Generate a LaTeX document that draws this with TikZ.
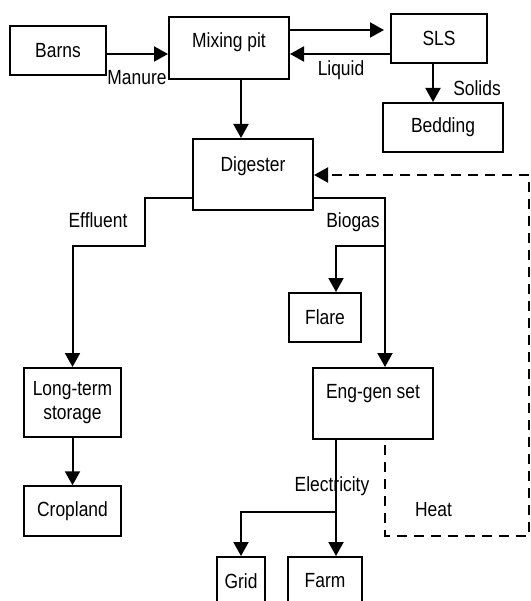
\documentclass[tikz,border=0pt]{standalone}
\usepackage{fontspec}
\setmainfont{Liberation Sans}[FakeStretch=0.85]
\usetikzlibrary{positioning, arrows.meta, calc}

\tikzset{
  box/.style={draw, line width=2pt, inner sep=0pt, align=center,
    font=\fontsize{20.5}{24}\selectfont},
  flow/.style={line width=2pt, -{Triangle[width=15pt,length=14pt]}},
  heat/.style={flow, dash pattern=on 10pt off 7pt},
  tag/.style={font=\fontsize{20.5}{24}\selectfont, inner sep=0pt}
}

\begin{document}
\begin{tikzpicture}[x=1pt, y=-1pt]
  \fill[white] (0,0) rectangle (530,601);
  \useasboundingbox (0,0) rectangle (530,601);

  \node[box, minimum width=96pt, minimum height=49pt] (barns) at (58,50.5) {Barns};
  \node[box, minimum width=120pt, minimum height=62pt, text height=14.7pt, text depth=15pt] (mix) at (229,48) {Mixing pit};
  \node[box, minimum width=96pt, minimum height=49pt] (sls) at (439,38.5) {SLS};
  \node[box, minimum width=120pt, minimum height=49pt] (bed) at (443,127.5) {Bedding};
  \node[box, minimum width=120pt, minimum height=71pt, text height=14.7pt, text depth=21pt] (dig) at (253,174.5) {Digester};
  \node[box, minimum width=72pt, minimum height=49pt] (flare) at (325,317.5) {Flare};
  \node[box, minimum width=97pt, minimum height=69pt] (lts) at (72.5,402.5) {Long-term\\storage};
  \node[box, minimum width=120pt, minimum height=71pt, text height=14.7pt, text depth=25pt] (eng) at (373,403.5) {Eng-gen set};
  \node[box, minimum width=97pt, minimum height=49.5pt] (crop) at (72.5,511) {Cropland};
  \node[box, minimum width=48pt, minimum height=48pt] (grid) at (241,581) {Grid};
  \node[box, minimum width=74pt, minimum height=48pt] (farm) at (325,581) {Farm};

  \coordinate (bsplit) at (385,246);
  \coordinate (esplit) at (336,512);

  \draw[flow] ([yshift=-3.5pt]barns.east) -- ([yshift=-3.5pt]barns.east -| mix.west);
  \draw[flow, shorten >=6pt] ([yshift=18pt]mix.east) -- ([yshift=18pt]mix.east -| sls.west);
  \draw[flow] (sls.west |- 0,54) -- (mix.east |- 0,54);
  \draw[flow] ([xshift=-6pt]sls.south) -- ([xshift=-6pt]sls.south |- bed.north);
  \draw[flow] ([xshift=12pt]mix.south) -- ([xshift=12pt]mix.south |- dig.north);

  \draw[flow] (dig.west |- 0,198) -| (145,246) -| (lts.north);
  \draw[flow] (dig.east |- 0,198) -| (bsplit) -- (eng.north -| bsplit);
  \draw[flow] (bsplit) -| ([xshift=11pt]flare.north);
  \draw[flow] (lts.south) -- (crop.north);
  \draw[flow] ([xshift=-37pt]eng.south) -- ([xshift=11pt]farm.north);
  \draw[flow] (esplit) -| (grid.north);
  \draw[heat] ([xshift=12pt, yshift=-5pt]eng.south) -- (385,535.5) -| (529,175) -- (dig.east |- 0,175);

  \node[tag] (manure) at (137,78) {Manure};
  \node[tag] (liquid) at (341,70) {Liquid};
  \node[tag] (solids) at (477,88.5) {Solids};
  \node[tag] (effluent) at (98,220.5) {Effluent};
  \node[tag] (biogas) at (353,222) {Biogas};
  \node[tag] (elec) at (332,486) {Electricity};
  \node[tag] (heatlbl) at (433.5,510) {Heat};
\end{tikzpicture}
\end{document}
